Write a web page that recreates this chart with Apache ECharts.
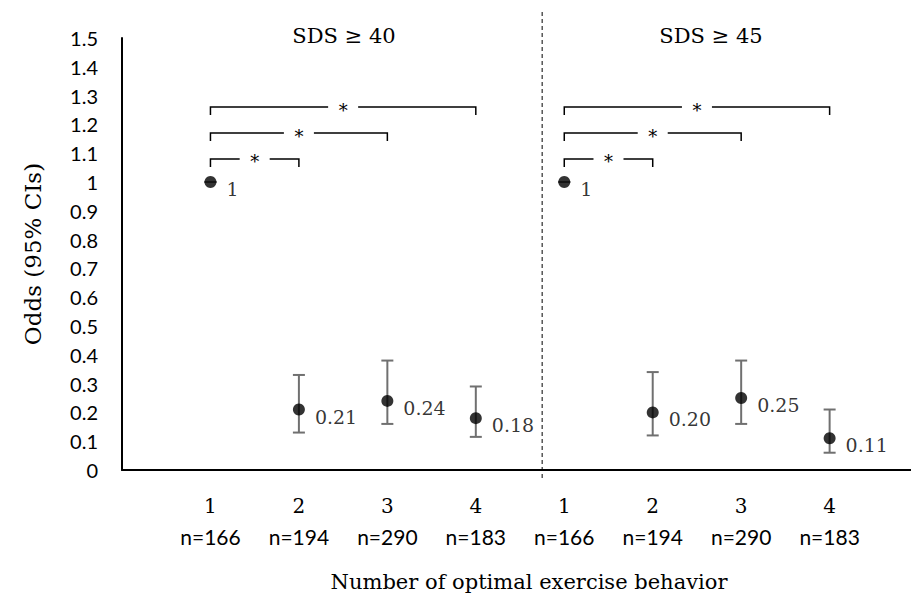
<!DOCTYPE html>
<html><head><meta charset="utf-8">
<script src="https://cdn.jsdelivr.net/npm/echarts@6/dist/echarts.min.js"></script>
<style>html,body{margin:0;padding:0;background:#fff}#c{width:911px;height:597px}</style>
</head><body><div id="c"></div>
<script>
// ---- data ----
const groupTitles = ['SDS ≥ 40', 'SDS ≥ 45'];
const behaviorLevels = ['1', '2', '3', '4'];
const sampleSizes = ['n=166', 'n=194', 'n=290', 'n=183'];
const odds40 = [1, 0.21, 0.24, 0.18];
const ciLow40 = [1, 0.13, 0.16, 0.115];
const ciHigh40 = [1, 0.33, 0.38, 0.29];
const odds45 = [1, 0.20, 0.25, 0.11];
const ciLow45 = [1, 0.12, 0.16, 0.06];
const ciHigh45 = [1, 0.34, 0.38, 0.21];
const yTickLabels = ['0','0.1','0.2','0.3','0.4','0.5','0.6','0.7','0.8','0.9','1','1.1','1.2','1.3','1.4','1.5'];
const bracketFrom = [1, 1, 1];
const bracketTo = [2, 3, 4];
const bracketLevel = [1.08, 1.17, 1.26];
const sigMark = '*';
const dividerAt = 4.75;

// ---- build ----
const SERIF = 'DejaVu Serif';
const SANS = 'Lato';
const groups = [[odds40, ciLow40, ciHigh40], [odds45, ciLow45, ciHigh45]];
const points = [], bars = [], brackets = [];
groups.forEach((g, gi) => {
  g[0].forEach((v, i) => {
    const x = gi * 4 + i + 1;
    points.push([x, v]);
    bars.push([x, g[1][i], g[2][i]]);
  });
  bracketFrom.forEach((f, k) => {
    brackets.push([gi * 4 + f, gi * 4 + bracketTo[k], bracketLevel[k]]);
  });
});

const chart = echarts.init(document.getElementById('c'), null, {renderer: 'svg'});
chart.setOption({
  animation: false,
  backgroundColor: '#fff',
  graphic: [
    {type: 'text', x: 344, y: 36, style: {text: groupTitles[0], font: '21px "DejaVu Serif"', fill: '#000', textAlign: 'center', textVerticalAlign: 'middle'}},
    {type: 'text', x: 711, y: 36, style: {text: groupTitles[1], font: '21px "DejaVu Serif"', fill: '#000', textAlign: 'center', textVerticalAlign: 'middle'}}
  ],
  grid: [
    {left: 122, right: 0, top: 38, bottom: 124},
    {left: 122, right: 0, top: 12, bottom: 119}
  ],
  xAxis: [{
    type: 'value', min: 0, max: 8.92, interval: 1, gridIndex: 0,
    axisLine: {show: true, onZero: false, lineStyle: {color: '#000', width: 2}},
    axisTick: {show: false}, splitLine: {show: false},
    axisLabel: {
      margin: 21, showMaxLabel: false,
      formatter: v => {
        const i = Math.round(v);
        if (Math.abs(v - i) > 1e-6 || i < 1 || i > 8) return '';
        const k = (i - 1) % 4;
        return '{a|' + behaviorLevels[k] + '}\n{b|' + sampleSizes[k] + '}';
      },
      rich: {
        a: {fontFamily: SERIF, fontSize: 20, lineHeight: 30, color: '#000'},
        b: {fontFamily: SANS, fontSize: 21, lineHeight: 30, color: '#000'}
      }
    },
    name: 'Number of optimal exercise behavior', nameLocation: 'middle', nameGap: 101,
    nameTextStyle: {fontFamily: SERIF, fontSize: 21, color: '#000', padding: [0, 0, 0, 25]}
  }, {
    type: 'value', min: 0, max: 8.92, gridIndex: 1, show: false
  }],
  yAxis: [{
    type: 'value', min: 0, max: 1.5, interval: 0.1, gridIndex: 0,
    axisLine: {show: true, lineStyle: {color: '#000', width: 2}},
    axisTick: {show: false}, splitLine: {show: false},
    axisLabel: {
      margin: 24, fontFamily: SANS, fontSize: 20, color: '#000',
      formatter: v => yTickLabels[Math.round(v * 10)]
    },
    name: 'Odds (95% CIs)', nameLocation: 'middle', nameRotate: 90, nameGap: 78,
    nameTextStyle: {fontFamily: SERIF, fontSize: 23, color: '#000'}
  }, {
    type: 'value', min: 0, max: 1, gridIndex: 1, show: false
  }],
  series: [
    {
      type: 'line', xAxisIndex: 1, yAxisIndex: 1, symbol: 'none', silent: true,
      data: [[dividerAt, 0], [dividerAt, 1]],
      lineStyle: {color: '#000', width: 1, type: [4, 3]}
    },
    {
      type: 'custom', xAxisIndex: 0, yAxisIndex: 0, z: 2,
      data: bars,
      renderItem: (params, api) => {
        const x = api.value(0);
        const lo = api.coord([x, api.value(1)]);
        const hi = api.coord([x, api.value(2)]);
        const hw = 6;
        const style = {stroke: '#707070', lineWidth: 2};
        return {type: 'group', children: [
          {type: 'line', shape: {x1: lo[0], y1: lo[1], x2: hi[0], y2: hi[1]}, style},
          {type: 'line', shape: {x1: lo[0] - hw, y1: lo[1], x2: lo[0] + hw, y2: lo[1]}, style},
          {type: 'line', shape: {x1: hi[0] - hw, y1: hi[1], x2: hi[0] + hw, y2: hi[1]}, style}
        ]};
      }
    },
    {
      type: 'custom', xAxisIndex: 0, yAxisIndex: 0, z: 2,
      data: brackets,
      renderItem: (params, api) => {
        const a = api.coord([api.value(0), api.value(2)]);
        const b = api.coord([api.value(1), api.value(2)]);
        const mid = (a[0] + b[0]) / 2, gap = 15, drop = 8;
        const style = {stroke: '#000', lineWidth: 1.5, fill: null};
        return {type: 'group', children: [
          {type: 'polyline', shape: {points: [[a[0], a[1] + drop], [a[0], a[1]], [mid - gap, a[1]]]}, style},
          {type: 'polyline', shape: {points: [[mid + gap, a[1]], [b[0], a[1]], [b[0], a[1] + drop]]}, style},
          {type: 'text', x: mid, y: a[1] + 3, style: {text: sigMark, font: '18px "DejaVu Serif"', fill: '#000', textAlign: 'center', textVerticalAlign: 'middle'}}
        ]};
      }
    },
    {
      type: 'scatter', xAxisIndex: 0, yAxisIndex: 0, z: 5,
      data: points, symbolSize: 12,
      itemStyle: {color: '#000'},
      label: {
        show: true, position: 'right', distance: 10, offset: [0, 7],
        fontFamily: SERIF, fontSize: 19, color: '#000',
        formatter: p => p.value[1] === 1 ? '1' : p.value[1].toFixed(2)
      }
    }
  ]
});
</script>
</body></html>
